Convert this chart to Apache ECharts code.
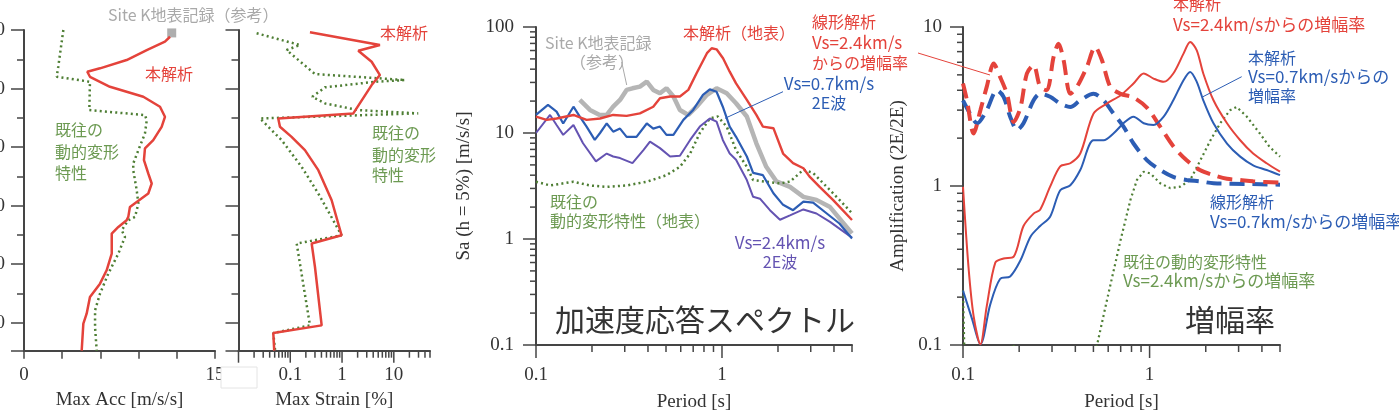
<!DOCTYPE html>
<html><head><meta charset="utf-8">
<script src="https://cdn.jsdelivr.net/npm/echarts@6/dist/echarts.min.js"></script>
<style>html,body{margin:0;padding:0;background:#fff}#c{width:1399px;height:414px}</style>
</head><body><div id="c"></div>
<script>
// ---------------- DATA ----------------
// Panel 1: max acceleration [m/s/s] vs depth
const depthTicks = [0, 10, 20, 30, 40, 50];
const accAnalysis = [[11.47,1.15],[11.07,1.99],[9.64,3.42],[8.06,5.13],[5.97,6.55],[4.97,7.13],[5.18,7.99],[6.75,9.70],[9.37,11.41],[10.68,13.12],[11.07,14.83],[10.81,16.54],[10.15,18.82],[9.50,20.24],[9.42,22.24],[9.76,24.52],[10.03,26.23],[9.76,27.94],[8.85,29.38],[8.32,30.23],[8.19,31.94],[8.06,32.51],[7.41,33.65],[6.89,34.78],[6.89,38.20],[6.49,41.06],[5.97,43.34],[5.18,45.63],[4.92,48.47],[4.66,50.18],[4.53,54.8]];
const accPrevious = [[3.09,0],[2.69,6.28],[2.57,7.99],[5.18,8.85],[5.13,13.69],[9.50,14.54],[9.64,15.40],[9.50,17.67],[8.98,20.53],[8.58,22.81],[8.58,23.95],[8.85,27.37],[8.98,29.65],[8.72,31.94],[8.19,32.51],[7.67,34.22],[7.93,35.36],[7.41,38.20],[6.62,41.63],[5.97,45.05],[5.58,47.91],[5.58,50.76],[5.71,54.8]];
const accSiteK = [[11.6,0.5]];
// Panel 2: max strain [%] vs depth
const strainAnalysis = [[0.240,0.39],[5.39,2.57],[2.06,3.54],[3.73,5.42],[5.39,7.70],[3.73,9.41],[1.65,14.25],[0.0586,15.11],[0.0632,16.54],[0.106,18.26],[0.192,20.53],[0.348,23.95],[0.630,29.09],[0.98,35.08],[0.259,36.49],[0.300,40.50],[0.404,50.47],[0.047,51.79],[0.049,54.8]];
const strainPrevious = [[0.0224,0.56],[0.154,2.57],[0.085,3.42],[0.300,7.53],[16.4,8.55],[4.32,8.85],[0.468,9.80],[0.266,11.41],[0.468,12.54],[2.06,13.69],[29.6,14.25],[0.026,15.11],[0.068,18.82],[0.166,23.39],[0.348,27.94],[0.98,35.08],[0.133,36.49],[0.240,50.47],[0.047,51.79],[0.051,54.8]];
// Panel 3: acceleration response spectra [period s, Sa]
const saAnalysis = [[0.1,14.3],[0.114,13.3],[0.129,13.7],[0.159,14.8],[0.187,13.3],[0.221,13.7],[0.26,14.8],[0.307,14.5],[0.362,15.3],[0.427,17.7],[0.464,21.3],[0.526,22.1],[0.594,22.1],[0.659,25.5],[0.73,36.6],[0.83,56.6],[0.88,63],[0.935,61.6],[1.013,50.7],[1.10,37.9],[1.19,29.4],[1.36,20.5],[1.53,14.8],[1.66,11.5],[1.89,11.1],[2.13,6.4],[2.41,5.2],[2.74,4.65],[2.95,3.9],[3.35,3.1],[3.95,2.34],[5,1.51]];
const saSiteK = [[0.172,20.5],[0.195,16.5],[0.22,14.8],[0.24,14.8],[0.26,17.7],[0.283,20.5],[0.307,25.5],[0.33,26.4],[0.362,27.4],[0.394,30.5],[0.427,25.5],[0.464,23.7],[0.503,26.4],[0.548,22.1],[0.594,16.5],[0.659,14.8],[0.73,17.7],[0.83,22.9],[0.935,26.4],[1.06,23.7],[1.19,19.1],[1.36,14.3],[1.53,8.0],[1.73,4.8],[1.96,3.5],[2.32,3.1],[2.74,2.5],[3.22,2.34],[3.81,2.0],[5,1.13]];
const saVs07 = [[0.1,14.8],[0.116,18.4],[0.129,15.9],[0.14,12.3],[0.159,17.7],[0.172,14.3],[0.187,11.5],[0.207,8.6],[0.221,10],[0.24,12.3],[0.26,10.3],[0.283,11.0],[0.307,9.2],[0.347,9.2],[0.394,12.3],[0.427,11.0],[0.464,11.5],[0.503,9.6],[0.548,9.6],[0.62,13.3],[0.70,16.5],[0.79,22.9],[0.86,25.8],[0.935,24.5],[1.01,17.7],[1.10,11.5],[1.19,9.2],[1.36,6.0],[1.47,4.2],[1.66,4.0],[1.89,2.7],[2.13,2.1],[2.41,1.87],[2.74,2.25],[3.09,2.2],[3.66,1.74],[4.28,1.40],[5,1.01]];
const saVs24 = [[0.1,10],[0.119,14.8],[0.129,11.9],[0.14,9.6],[0.159,11.9],[0.179,8.0],[0.21,5.4],[0.24,6.4],[0.26,6.0],[0.283,5.8],[0.33,5.2],[0.378,6.9],[0.41,8.3],[0.464,7.2],[0.526,6.0],[0.594,6.1],[0.674,8.6],[0.76,11.5],[0.86,13.7],[0.935,12.8],[1.01,8.6],[1.10,6.4],[1.19,5.6],[1.36,3.6],[1.47,2.5],[1.6,2.4],[1.81,1.87],[2.05,1.52],[2.32,1.67],[2.74,1.9],[3.22,1.74],[3.81,1.45],[5,1.03]];
const saPrevious = [[0.1,3.47],[0.119,3.2],[0.159,3.47],[0.195,3.2],[0.24,3.1],[0.307,3.2],[0.394,3.47],[0.503,4.0],[0.594,4.8],[0.674,6.4],[0.76,10],[0.86,13.7],[0.95,14.3],[1.06,11.5],[1.19,6.9],[1.36,4.8],[1.47,3.6],[1.73,3.47],[2.05,3.35],[2.32,3.47],[2.74,4.5],[3.09,4.2],[3.66,3.1],[4.28,2.34],[5,1.75]];
// Panel 4: amplification [period s, ratio]
const ampAnalysis24 = [[0.1,0.99],[0.107,0.31],[0.114,0.152],[0.124,0.101],[0.134,0.175],[0.149,0.33],[0.165,0.35],[0.187,0.36],[0.211,0.56],[0.239,0.67],[0.259,0.71],[0.293,0.99],[0.332,1.33],[0.376,1.39],[0.425,1.60],[0.501,2.86],[0.59,3.30],[0.70,3.72],[0.82,4.41],[0.93,5.10],[1.05,4.74],[1.19,4.52],[1.34,5.10],[1.52,6.80],[1.65,8.05],[1.79,7.14],[1.94,5.10],[2.20,3.46],[2.60,2.48],[3.06,1.94],[3.59,1.60],[4.24,1.39],[5,1.23]];
const ampAnalysis07 = [[0.1,0.22],[0.112,0.145],[0.124,0.101],[0.14,0.18],[0.158,0.26],[0.179,0.27],[0.203,0.34],[0.23,0.48],[0.259,0.56],[0.293,0.64],[0.332,0.94],[0.376,1.01],[0.425,1.26],[0.501,1.94],[0.567,1.94],[0.64,2.14],[0.725,2.48],[0.82,2.73],[0.93,2.48],[1.05,2.42],[1.19,2.73],[1.34,3.46],[1.52,4.63],[1.65,5.22],[1.79,4.52],[1.94,3.46],[2.20,2.48],[2.60,1.85],[3.06,1.53],[3.59,1.35],[4.24,1.26],[5,1.17]];
const ampLinear24 = [[0.1,4.41],[0.105,3.46],[0.114,2.14],[0.124,3.0],[0.134,4.2],[0.146,5.89],[0.158,4.86],[0.172,3.8],[0.187,2.53],[0.203,3.1],[0.22,5.1],[0.239,5.75],[0.259,4.2],[0.281,4.0],[0.306,6.5],[0.325,7.86],[0.346,6.2],[0.376,3.8],[0.408,4.2],[0.461,5.6],[0.511,7.49],[0.555,6.2],[0.616,4.2],[0.70,3.8],[0.82,3.6],[0.97,3.1],[1.14,2.36],[1.34,1.78],[1.58,1.45],[1.86,1.26],[2.20,1.17],[2.60,1.11],[3.06,1.09],[3.59,1.07],[5,1.05]];
const ampLinear07 = [[0.1,3.46],[0.109,2.86],[0.119,2.48],[0.134,3.0],[0.152,4.0],[0.165,3.64],[0.179,2.73],[0.195,2.25],[0.211,2.48],[0.239,3.46],[0.259,3.8],[0.293,3.64],[0.332,3.3],[0.376,3.14],[0.425,3.46],[0.501,3.8],[0.567,3.46],[0.64,2.86],[0.725,2.36],[0.82,1.85],[0.97,1.45],[1.14,1.26],[1.34,1.14],[1.58,1.09],[1.86,1.07],[2.2,1.04],[3.3,1.03],[5,1.02]];
const ampPrevious24 = [[0.1,0.22],[0.102,0.08],[0.17,0.08],[0.185,0.101],[0.2,0.08],[0.45,0.06],[0.523,0.1],[0.59,0.19],[0.70,0.46],[0.79,0.82],[0.855,1.09],[0.93,1.23],[1.01,1.20],[1.14,1.04],[1.29,0.97],[1.46,0.99],[1.65,1.09],[1.87,1.45],[2.12,1.94],[2.39,2.48],[2.70,3.0],[2.93,3.14],[3.32,2.73],[3.90,2.14],[4.4,1.76],[5,1.53]];

// ---------------- STYLE ----------------
const RED = '#e4433b', BLUE = '#2c5db4', PURPLE = '#6453b2', GRAY = '#b5b5b5', GREEN = '#4e7e34', GREENT = '#6c9a52', GRAYT = '#a9a9a9', DARK = '#333';
const AX = '#454545';
const SERIF = '"Liberation Serif", "DejaVu Serif", serif';
const SANS = '"Noto Sans CJK JP", "Noto Sans", sans-serif';
const DEPTH_MAX = 54.8;

// grid rectangles and log-axis ranges (shared by the chart and the log tick marks)
const GRIDS = [
  { left: 24, top: 30, width: 191, height: 320.7 },
  { left: 238.5, top: 30, width: 191.5, height: 320.7 },
  { left: 536, top: 27, width: 316, height: 318 },
  { left: 963, top: 27, width: 317, height: 318 }
];
const X_RANGE = [null, [0.01, 50], [0.1, 5], [0.1, 5]];
const Y_RANGE = [null, null, [0.1, 100], [0.1, 10]];

function logTicks(a, b) {
  const major = [], minor = [];
  for (let d = Math.floor(Math.log10(a)); d <= Math.ceil(Math.log10(b)); d++) {
    for (let k = 1; k < 10; k++) {
      const v = k * Math.pow(10, d);
      if (v < a * 0.999 || v > b * 1.001) continue;
      (k === 1 ? major : minor).push(v);
    }
  }
  return { major, minor };
}
function powLabel(show) {
  return function (v) {
    const l = Math.log10(v), r = Math.round(l);
    if (Math.abs(l - r) > 1e-3) return '';
    if (show && show.indexOf(r) < 0) return '';
    return r < 0 ? Math.pow(10, r).toFixed(-r) : String(Math.round(Math.pow(10, r)));
  };
}
function logFrac(v, r) { return (Math.log10(v) - Math.log10(r[0])) / (Math.log10(r[1]) - Math.log10(r[0])); }

const axisLine = { show: true, onZero: false, lineStyle: { color: AX, width: 2 } };
function lbl() { return { fontFamily: SERIF, fontSize: 19, color: DARK }; }

function line(xi, data, color, width, type, extra) {
  return Object.assign({
    type: 'line', xAxisIndex: xi, yAxisIndex: xi, data: data, symbol: 'none', clip: true,
    lineStyle: { color: color, width: width, type: type || 'solid' }, silent: true, animation: false
  }, extra || {});
}
const dotted = [2, 3.2];
const gridBase = { containLabel: false, outerBoundsMode: 'none' };

const option = {
  animation: false,
  grid: GRIDS.map(g => Object.assign({}, g, gridBase)),
  xAxis: [
    { gridIndex: 0, type: 'value', position: 'bottom', min: 0, max: 15, interval: 3, axisLine: axisLine,
      axisTick: { length: 8, lineStyle: { color: AX, width: 1.5 } },
      axisLabel: Object.assign({ margin: 15, formatter: v => (v === 0 || v === 15) ? String(v) : '' }, lbl()),
      splitLine: { show: false }, name: 'Max Acc [m/s/s]', nameLocation: 'middle', nameGap: 40, nameTextStyle: lbl() },
    { gridIndex: 1, type: 'log', position: 'bottom', logBase: 10, min: X_RANGE[1][0], max: X_RANGE[1][1], axisLine: axisLine, axisTick: { show: false },
      axisLabel: Object.assign({ margin: 15, formatter: powLabel([-1, 0, 1]) }, lbl()),
      splitLine: { show: false }, name: 'Max Strain [%]', nameLocation: 'middle', nameGap: 40, nameTextStyle: lbl() },
    { gridIndex: 2, type: 'log', position: 'bottom', logBase: 10, min: X_RANGE[2][0], max: X_RANGE[2][1], axisLine: axisLine, axisTick: { show: false },
      axisLabel: Object.assign({ margin: 21, formatter: powLabel([-1, 0]) }, lbl()),
      splitLine: { show: false }, name: 'Period [s]', nameLocation: 'middle', nameGap: 48, nameTextStyle: lbl() },
    { gridIndex: 3, type: 'log', position: 'bottom', logBase: 10, min: X_RANGE[3][0], max: X_RANGE[3][1], axisLine: axisLine, axisTick: { show: false },
      axisLabel: Object.assign({ margin: 21, formatter: powLabel([-1, 0]) }, lbl()),
      splitLine: { show: false }, name: 'Period [s]', nameLocation: 'middle', nameGap: 48, nameTextStyle: lbl() }
  ],
  yAxis: [
    { gridIndex: 0, type: 'value', inverse: true, min: 0, max: DEPTH_MAX, interval: 10, axisLine: axisLine,
      axisTick: { length: 13, lineStyle: { color: AX, width: 1.5 } },
      minorTick: { show: true, splitNumber: 2, length: 7, lineStyle: { color: AX, width: 1.5 } },
      axisLabel: Object.assign({ margin: 19, formatter: v => depthTicks.indexOf(v) >= 0 ? String(v) : '' }, lbl()),
      splitLine: { show: false } },
    { gridIndex: 1, type: 'value', inverse: true, min: 0, max: DEPTH_MAX, interval: 10, axisLine: axisLine,
      axisTick: { length: 13, lineStyle: { color: AX, width: 1.5 } },
      minorTick: { show: true, splitNumber: 2, length: 7, lineStyle: { color: AX, width: 1.5 } },
      axisLabel: { show: false }, splitLine: { show: false } },
    { gridIndex: 2, type: 'log', logBase: 10, min: Y_RANGE[2][0], max: Y_RANGE[2][1], axisLine: axisLine, axisTick: { show: false },
      axisLabel: Object.assign({ margin: 22, formatter: powLabel() }, lbl()), splitLine: { show: false },
      name: 'Sa (h = 5%) [m/s/s]', nameLocation: 'middle', nameGap: 62, nameTextStyle: lbl() },
    { gridIndex: 3, type: 'log', logBase: 10, min: Y_RANGE[3][0], max: Y_RANGE[3][1], axisLine: axisLine, axisTick: { show: false },
      axisLabel: Object.assign({ margin: 21, formatter: powLabel() }, lbl()), splitLine: { show: false },
      name: 'Amplification (2E/2E)', nameLocation: 'middle', nameGap: 55, nameTextStyle: lbl() }
  ],
  series: [
    line(0, accPrevious, GREEN, 2.5, dotted),
    line(0, accAnalysis, RED, 2.5),
    { type: 'scatter', xAxisIndex: 0, yAxisIndex: 0, data: accSiteK, symbol: 'rect', symbolSize: 9, itemStyle: { color: '#9a9a9a' }, silent: true, animation: false },
    line(1, strainPrevious, GREEN, 2.5, dotted),
    line(1, strainAnalysis, RED, 2.5),
    line(2, saSiteK, GRAY, 4.5),
    line(2, saPrevious, GREEN, 2.5, dotted),
    line(2, saVs24, PURPLE, 2),
    line(2, saVs07, BLUE, 2.2),
    line(2, saAnalysis, RED, 2.4),
    line(3, ampPrevious24, GREEN, 2.2, dotted),
    line(3, ampLinear07, BLUE, 4, [15, 8], { smooth: 0.3 }),
    line(3, ampLinear24, RED, 4, [15, 8], { smooth: 0.3 }),
    line(3, ampAnalysis07, BLUE, 2, 'solid', { smooth: 0.3 }),
    line(3, ampAnalysis24, RED, 2, 'solid', { smooth: 0.3 })
  ]
};

// annotation texts [text, x, y(center), color, size, align]
const notes = [
  ['Site K地表記録（参考）', 108, 15, GRAYT, 16, 'left'],
  ['本解析', 145, 74, RED, 16, 'left'],
  ['既往の', 55, 130, GREENT, 16, 'left'], ['動的変形', 55, 152, GREENT, 16, 'left'], ['特性', 55, 173, GREENT, 16, 'left'],
  ['本解析', 380, 33, RED, 16, 'left'],
  ['既往の', 372, 133, GREENT, 16, 'left'], ['動的変形', 372, 155, GREENT, 16, 'left'], ['特性', 372, 175, GREENT, 16, 'left'],
  ['Site K地表記録', 545, 43, GRAYT, 16, 'left'], ['（参考）', 602, 62, GRAYT, 16, 'center'],
  ['本解析（地表）', 683, 33, RED, 16, 'left'],
  ['線形解析', 812, 22, RED, 16, 'left'], ['Vs=2.4km/s', 812, 43, RED, 17, 'left'], ['からの増幅率', 812, 63, RED, 16, 'left'],
  ['Vs=0.7km/s', 829, 84, BLUE, 17, 'center'], ['2E波', 829, 103, BLUE, 16, 'center'],
  ['既往の', 550, 202, GREENT, 16, 'left'], ['動的変形特性（地表）', 550, 221, GREENT, 16, 'left'],
  ['Vs=2.4km/s', 780, 243, PURPLE, 17, 'center'], ['2E波', 780, 262, PURPLE, 16, 'center'],
  ['加速度応答スペクトル', 555, 320, DARK, 30, 'left'],
  ['本解析', 1173, 4, RED, 16, 'left'], ['Vs=2.4km/sからの増幅率', 1173, 25, RED, 17, 'left'],
  ['本解析', 1248, 58, BLUE, 16, 'left'], ['Vs=0.7km/sからの', 1248, 77, BLUE, 17, 'left'], ['増幅率', 1248, 96, BLUE, 16, 'left'],
  ['線形解析', 1210, 202, BLUE, 16, 'left'], ['Vs=0.7km/sからの増幅率', 1210, 222, BLUE, 17, 'left'],
  ['既往の動的変形特性', 1123, 262, GREENT, 16, 'left'], ['Vs=2.4km/sからの増幅率', 1123, 281, GREENT, 17, 'left'],
  ['増幅率', 1185, 320, DARK, 30, 'left']
];
const graphicEls = [];
notes.forEach(n => graphicEls.push({
  type: 'text', x: n[1], y: n[2], z: 20, silent: true,
  style: { text: n[0], fill: n[3], fontSize: n[4], fontFamily: SANS, align: n[5], verticalAlign: 'middle' }
}));
// leader lines
[[621.7, 62, 626.7, 85, GRAYT], [783, 91.7, 725, 118.3, BLUE], [918, 53, 990, 75, RED], [1241.7, 76.7, 1203, 96.7, BLUE]]
  .forEach(l => graphicEls.push({ type: 'line', z: 20, silent: true, shape: { x1: l[0], y1: l[1], x2: l[2], y2: l[3] }, style: { stroke: l[4], lineWidth: 1 } }));

// log-axis tick marks (1x major, 2x..9x minor) on the same grid rectangles / ranges as the axes
function tickLine(x1, y1, x2, y2) {
  return { type: 'line', z: 15, silent: true, shape: { x1: x1, y1: y1, x2: x2, y2: y2 }, style: { stroke: AX, lineWidth: 1.5 } };
}
function addXTicks(gi, majLen, minLen) {
  const g = GRIDS[gi], r = X_RANGE[gi], t = logTicks(r[0], r[1]), y0 = g.top + g.height;
  [[t.major, majLen], [t.minor, minLen]].forEach(([vals, len]) => vals.forEach(v => {
    const x = g.left + g.width * logFrac(v, r);
    graphicEls.push(tickLine(x, y0, x, y0 + len));
  }));
}
function addYTicks(gi, majLen, minLen) {
  const g = GRIDS[gi], r = Y_RANGE[gi], t = logTicks(r[0], r[1]), x0 = g.left;
  [[t.major, majLen], [t.minor, minLen]].forEach(([vals, len]) => vals.forEach(v => {
    const y = g.top + g.height - g.height * logFrac(v, r);
    graphicEls.push(tickLine(x0, y, x0 - len, y));
  }));
}
addXTicks(1, 12, 7);
addXTicks(2, 13, 7);
addYTicks(2, 13, 6);
addXTicks(3, 13, 7);
addYTicks(3, 13, 6);

// white box over the strain axis corner label
graphicEls.push({ type: 'rect', z: 30, silent: true, shape: { x: 221, y: 367, width: 36, height: 21 }, style: { fill: '#fff', stroke: '#e4e4e4', lineWidth: 1 } });
option.graphic = { elements: graphicEls };

const chart = echarts.init(document.getElementById('c'), null, { renderer: 'canvas' });
chart.setOption(option);
</script>
</body></html>
